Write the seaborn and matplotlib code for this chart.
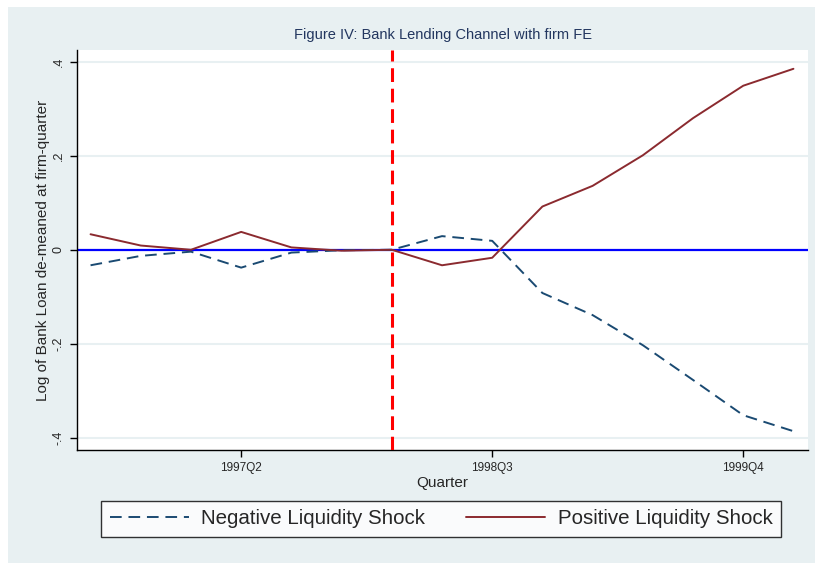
import numpy as np
import pandas as pd
import matplotlib
matplotlib.use("Agg")
import matplotlib.pyplot as plt
import seaborn as sns
from matplotlib.patches import Rectangle

quarters = ["1996Q3", "1996Q4", "1997Q1", "1997Q2", "1997Q3", "1997Q4", "1998Q1",
            "1998Q2", "1998Q3", "1998Q4", "1999Q1", "1999Q2", "1999Q3", "1999Q4", "2000Q1"]
negative_shock = [-0.033, -0.013, -0.004, -0.038, -0.006, -0.001, 0.0,
                  0.029, 0.019, -0.092, -0.139, -0.203, -0.277, -0.352, -0.386]
positive_shock = [0.033, 0.009, 0.0, 0.038, 0.005, -0.002, 0.0,
                  -0.033, -0.017, 0.092, 0.136, 0.201, 0.280, 0.349, 0.385]
tick_quarters = ["1997Q2", "1998Q3", "1999Q4"]
event_quarter = "1998Q1"

bg = "#E8F0F2"

sns.set_style("white")
plt.rcParams["font.family"] = ["Liberation Sans", "DejaVu Sans"]

df = pd.DataFrame({
    "t": list(range(len(quarters))) * 2,
    "value": negative_shock + positive_shock,
    "series": ["Negative Liquidity Shock"] * len(quarters) + ["Positive Liquidity Shock"] * len(quarters),
})

fig = plt.figure(figsize=(8.15, 5.63), dpi=100, facecolor="white")
fig.patches.append(Rectangle((8 / 815, 0), 1, 556 / 563, transform=fig.transFigure,
                             facecolor=bg, edgecolor="none", zorder=-10))
ax = fig.add_axes([77 / 815, 1 - 450 / 563, (808 - 77) / 815, 400 / 563])
ax.set_facecolor("white")

ax.axhline(0, color="#0000FF", lw=1.6, zorder=2)
for y in [-0.4, -0.2, 0.2, 0.4]:
    ax.axhline(y, color=bg, lw=1.5, zorder=0)
ax.axvline(quarters.index(event_quarter), color="#FF0000", lw=2.2, ls=(0, (4.5, 2.2)), zorder=3)

sns.lineplot(data=df, x="t", y="value", hue="series", style="series",
             palette=["#1A4A72", "#8B2A2F"], dashes=[(6, 3.5), ""],
             lw=1.4, ax=ax, legend=False, zorder=4)

ax.set_xlim(-0.27, 14.29)
ax.set_ylim(-0.426, 0.425)
ax.set_yticks([-0.4, -0.2, 0, 0.2, 0.4])
ax.set_yticklabels(["-.4", "-.2", "0", ".2", ".4"], rotation=90, va="center", fontsize=9)
ax.set_xticks([quarters.index(q) for q in tick_quarters])
ax.set_xticklabels(tick_quarters, fontsize=8.5)
ax.tick_params(axis="both", length=5, width=1, color="black", direction="out", pad=4)
ax.tick_params(left=True, bottom=True)

for s in ["top", "right"]:
    ax.spines[s].set_visible(False)
for s in ["left", "bottom"]:
    ax.spines[s].set_color("black")
    ax.spines[s].set_linewidth(1)

ax.set_xlabel("Quarter", fontsize=11, labelpad=1)
ax.set_ylabel("Log of Bank Loan de-meaned at firm-quarter", fontsize=11, labelpad=2)
ax.set_title("Figure IV: Bank Lending Channel with firm FE", fontsize=10.5, color="#22365F", pad=8)

handles = [plt.Line2D([], [], color="#1A4A72", lw=1.4, ls=(0, (6, 3.5))),
           plt.Line2D([], [], color="#8B2A2F", lw=1.4)]
leg = fig.legend(handles, ["Negative Liquidity Shock", "Positive Liquidity Shock"],
                 loc="center", bbox_to_anchor=(441 / 815, 1 - 519 / 563), ncol=2,
                 fontsize=14.8, frameon=True, fancybox=False, edgecolor="black",
                 handlelength=3.85, columnspacing=2.0, borderpad=0.4, handletextpad=0.6,
                 borderaxespad=0.0)
leg.get_frame().set_linewidth(1)

fig.savefig("out.png", dpi=100, facecolor=fig.get_facecolor())
